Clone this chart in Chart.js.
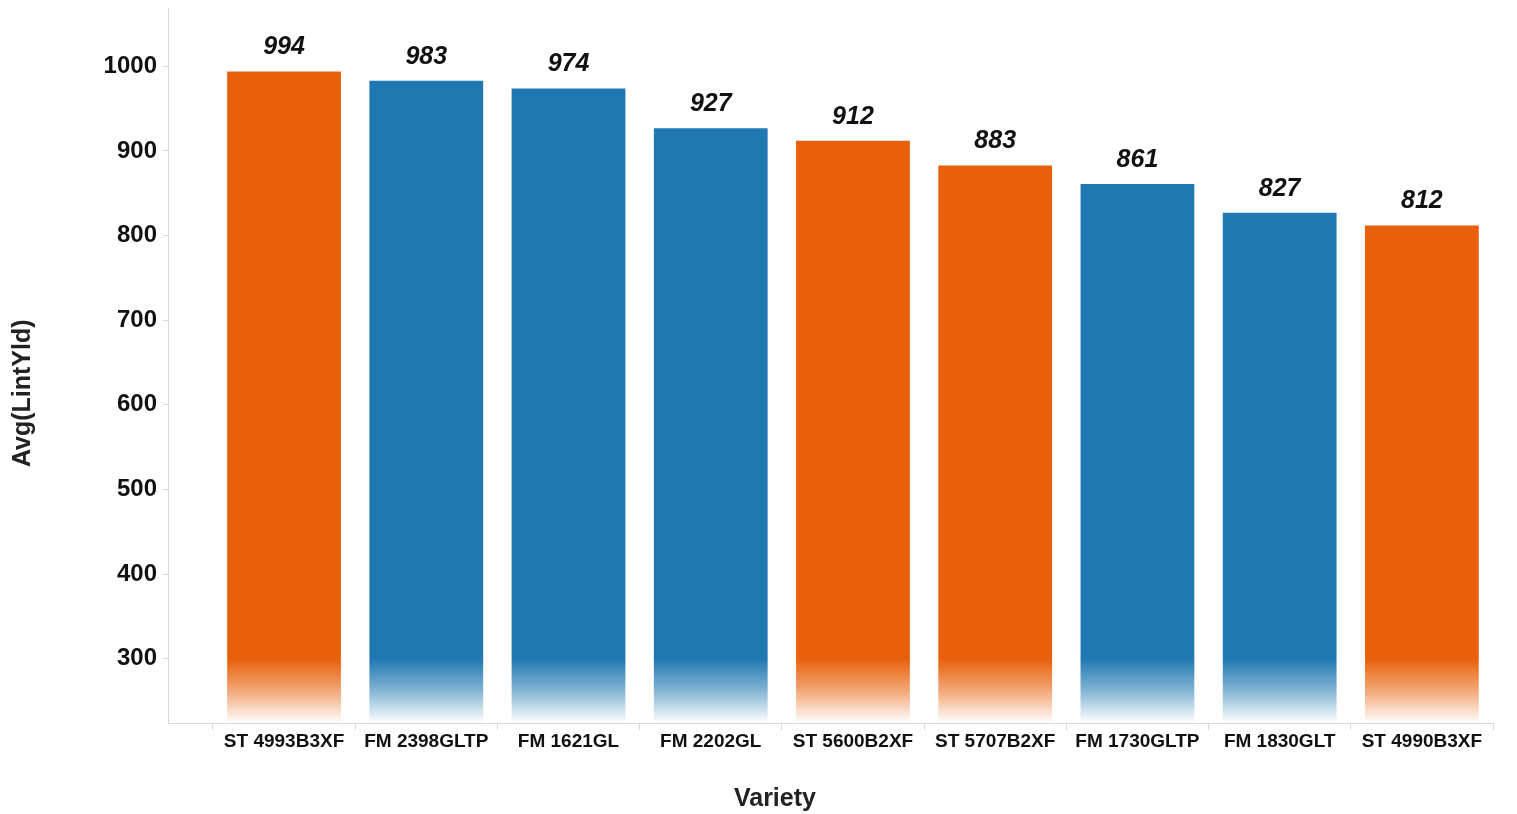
<!DOCTYPE html>
<html>
<head>
<meta charset="utf-8">
<script src="https://cdn.jsdelivr.net/npm/chart.js@4/dist/chart.umd.min.js"></script>
<style>
  html, body { margin: 0; padding: 0; background: #fff; }
  #wrap { width: 1517px; height: 814px; position: relative; }
</style>
</head>
<body>
<div id="wrap"><canvas id="myChart"></canvas></div>
<script>
const varieties = ["ST 4993B3XF", "FM 2398GLTP", "FM 1621GL", "FM 2202GL", "ST 5600B2XF", "ST 5707B2XF", "FM 1730GLTP", "FM 1830GLT", "ST 4990B3XF"];
const lintYield = [994, 983, 974, 927, 912, 883, 861, 827, 812];
const brand = ["ST", "FM", "FM", "FM", "ST", "ST", "FM", "FM", "ST"];
const yTicks = [300, 400, 500, 600, 700, 800, 900, 1000];

const colores = {
    ST: [232, 96, 10],
    FM: [31, 120, 178]
};

const fuente = "'Liberation Sans', Arial, sans-serif";

// gradiente: color solido hasta ~300 y luego se desvanece a blanco
const colorBarra = (ctx) => {
    const chart = ctx.chart;
    const area = chart.chartArea;
    if (!area) return "rgb(0,0,0)";
    const rgb = colores[brand[ctx.dataIndex]];
    const y300 = chart.scales.y.getPixelForValue(300);
    const g = chart.ctx.createLinearGradient(0, y300, 0, area.bottom);
    g.addColorStop(0, `rgb(${rgb.join(",")})`);
    g.addColorStop(0.5, `rgba(${rgb.join(",")},0.55)`);
    g.addColorStop(1, `rgba(${rgb.join(",")},0.0)`);
    return g;
};

const etiquetasValor = {
    id: "etiquetasValor",
    afterDatasetsDraw(chart) {
        const ctx = chart.ctx;
        const meta = chart.getDatasetMeta(0);
        ctx.save();
        ctx.font = `italic bold 25px ${fuente}`;
        ctx.fillStyle = "#111";
        ctx.textAlign = "center";
        ctx.textBaseline = "middle";
        meta.data.forEach((bar, i) => {
            ctx.fillText(lintYield[i], bar.x, bar.y - 24);
        });
        ctx.restore();
    }
};

const config = {
    type: "bar",
    data: {
        labels: varieties,
        datasets: [{
            data: lintYield,
            backgroundColor: colorBarra,
            borderWidth: 0,
            categoryPercentage: 1.0,
            barPercentage: 0.8
        }]
    },
    options: {
        responsive: true,
        maintainAspectRatio: false,
        animation: false,
        layout: { padding: { top: 8, right: 24, left: 0, bottom: 0 } },
        plugins: {
            legend: { display: false },
            tooltip: { enabled: false }
        },
        scales: {
            x: {
                offset: true,
                grid: { display: true, drawOnChartArea: false, offset: true, tickLength: 7, color: "#d9d9d9" },
                border: { color: "#d9d9d9" },
                ticks: { color: "#111", font: { family: fuente, size: 19, weight: "bold" }, padding: 0, maxRotation: 0 },
                title: { display: true, text: "Variety                ", color: "#222", font: { family: fuente, size: 25, weight: "bold" }, padding: { top: 22, bottom: 0 } },
                afterFit(scale) { scale.height = 91; },
                // deja un hueco a la izquierda antes de la primera categoria
                afterBuildTicks(scale) {
                    scale._startValue = -0.816;
                    scale._valueRange = 9.316;
                }
            },
            y: {
                min: 224,
                max: 1069,
                afterBuildTicks(scale) { scale.ticks = yTicks.map(v => ({ value: v })); },
                grid: { display: true, drawOnChartArea: false, tickLength: 5, color: "#d9d9d9" },
                border: { color: "#d9d9d9" },
                ticks: { color: "#111", font: { family: fuente, size: 24, weight: "bold" }, padding: 6, callback: (v) => String(v) },
                title: { display: true, text: "Avg(LintYld)        ", color: "#222", font: { family: fuente, size: 25, weight: "bold" }, padding: { top: 8, bottom: 0 } },
                afterFit(scale) {
                    scale.width = 168;
                    scale.paddingTop = 0;
                    scale.paddingBottom = 0;
                }
            }
        }
    },
    plugins: [etiquetasValor]
};

const grafico = new Chart(document.getElementById("myChart"), config);
</script>
</body>
</html>
